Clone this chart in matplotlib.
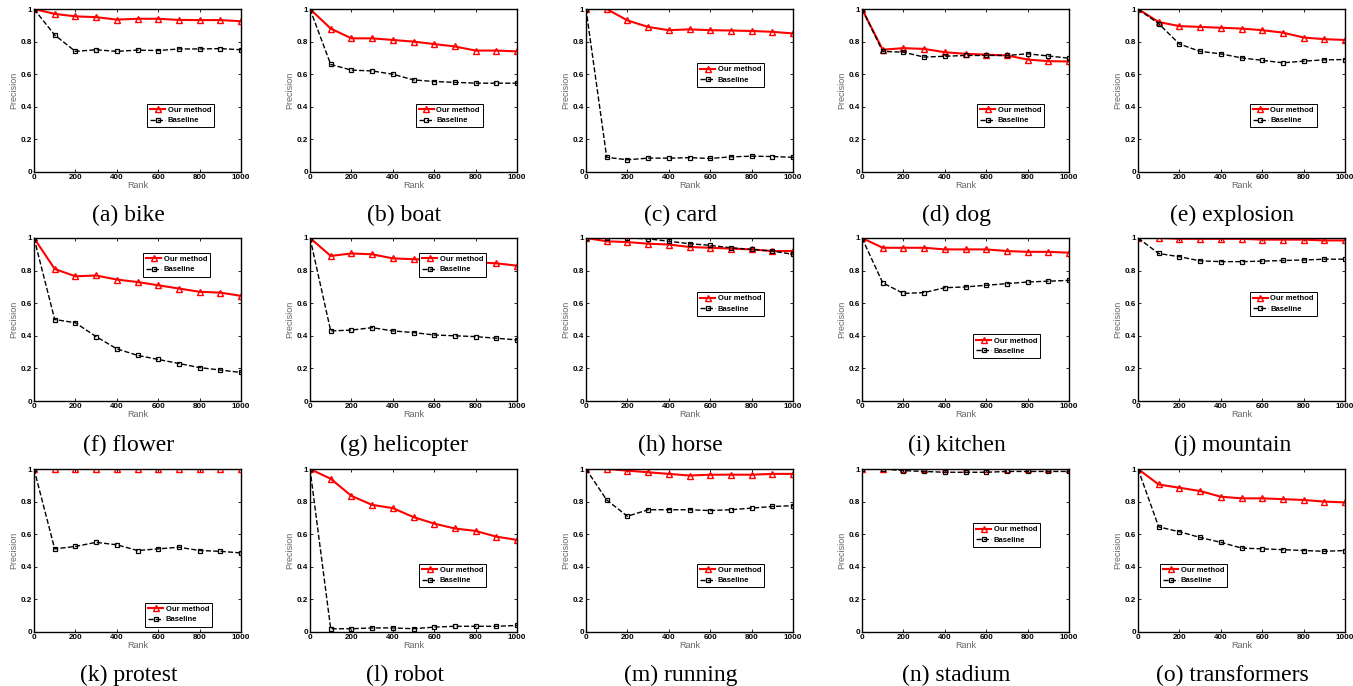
import matplotlib
matplotlib.use('Agg')
import matplotlib.pyplot as plt
import numpy as np

plt.rcParams.update({
    'font.family': 'Liberation Sans',
    'font.size': 6,
    'axes.linewidth': 1.0,
})

W, H = 1353, 686

ranks = [0, 100, 200, 300, 400, 500, 600, 700, 800, 900, 1000]

captions = ['(a) bike', '(b) boat', '(c) card', '(d) dog', '(e) explosion',
            '(f) flower', '(g) helicopter', '(h) horse', '(i) kitchen', '(j) mountain',
            '(k) protest', '(l) robot', '(m) running', '(n) stadium', '(o) transformers']

ours = [
    [1.0, 0.97, 0.955, 0.95, 0.935, 0.94, 0.94, 0.933, 0.932, 0.932, 0.925],    # bike
    [1.0, 0.88, 0.82, 0.82, 0.81, 0.80, 0.785, 0.77, 0.745, 0.745, 0.74],       # boat
    [1.0, 1.0, 0.93, 0.89, 0.87, 0.875, 0.87, 0.868, 0.865, 0.86, 0.85],        # card
    [1.0, 0.75, 0.76, 0.755, 0.735, 0.725, 0.72, 0.715, 0.69, 0.68, 0.678],     # dog
    [1.0, 0.92, 0.895, 0.89, 0.885, 0.88, 0.87, 0.855, 0.825, 0.815, 0.81],     # explosion
    [1.0, 0.81, 0.765, 0.77, 0.745, 0.73, 0.71, 0.69, 0.67, 0.665, 0.645],      # flower
    [1.0, 0.89, 0.905, 0.90, 0.875, 0.87, 0.865, 0.85, 0.85, 0.845, 0.83],      # helicopter
    [1.0, 0.98, 0.975, 0.965, 0.96, 0.945, 0.94, 0.935, 0.93, 0.92, 0.92],      # horse
    [1.0, 0.94, 0.94, 0.94, 0.93, 0.93, 0.93, 0.92, 0.915, 0.915, 0.91],        # kitchen
    [1.0, 1.0, 0.995, 0.995, 0.995, 0.995, 0.99, 0.99, 0.99, 0.985, 0.985],     # mountain
    [1.0, 1.0, 1.0, 1.0, 1.0, 1.0, 1.0, 1.0, 1.0, 1.0, 1.0],                    # protest
    [1.0, 0.94, 0.835, 0.78, 0.76, 0.705, 0.665, 0.635, 0.62, 0.585, 0.565],    # robot
    [1.0, 1.0, 0.99, 0.98, 0.97, 0.96, 0.965, 0.965, 0.965, 0.97, 0.97],        # running
    [1.0, 1.0, 1.0, 1.0, 1.0, 1.0, 1.0, 1.0, 1.0, 1.0, 1.0],                    # stadium
    [1.0, 0.905, 0.885, 0.865, 0.83, 0.82, 0.82, 0.815, 0.81, 0.80, 0.795],     # transformers
]

baseline = [
    [1.0, 0.84, 0.74, 0.75, 0.74, 0.748, 0.745, 0.755, 0.755, 0.757, 0.75],
    [1.0, 0.66, 0.625, 0.62, 0.60, 0.565, 0.555, 0.55, 0.545, 0.545, 0.545],
    [1.0, 0.09, 0.075, 0.085, 0.085, 0.088, 0.083, 0.093, 0.097, 0.095, 0.09],
    [1.0, 0.74, 0.735, 0.705, 0.71, 0.715, 0.715, 0.715, 0.725, 0.712, 0.698],
    [1.0, 0.91, 0.785, 0.74, 0.725, 0.70, 0.685, 0.67, 0.68, 0.688, 0.69],
    [1.0, 0.50, 0.48, 0.395, 0.32, 0.28, 0.255, 0.23, 0.205, 0.19, 0.175],
    [1.0, 0.43, 0.435, 0.45, 0.43, 0.42, 0.405, 0.40, 0.395, 0.385, 0.375],
    [1.0, 1.0, 1.0, 0.995, 0.98, 0.965, 0.955, 0.94, 0.93, 0.92, 0.90],
    [1.0, 0.725, 0.66, 0.665, 0.695, 0.70, 0.71, 0.72, 0.73, 0.735, 0.74],
    [1.0, 0.905, 0.885, 0.86, 0.855, 0.855, 0.858, 0.862, 0.865, 0.87, 0.87],
    [1.0, 0.51, 0.525, 0.55, 0.535, 0.50, 0.51, 0.52, 0.50, 0.495, 0.485],
    [1.0, 0.02, 0.02, 0.025, 0.025, 0.02, 0.03, 0.035, 0.035, 0.035, 0.04],
    [1.0, 0.81, 0.71, 0.75, 0.75, 0.75, 0.745, 0.75, 0.76, 0.77, 0.775],
    [1.0, 1.0, 0.99, 0.985, 0.98, 0.98, 0.98, 0.985, 0.985, 0.985, 0.985],
    [1.0, 0.645, 0.615, 0.58, 0.55, 0.515, 0.51, 0.505, 0.50, 0.495, 0.50],
]

# legend upper-left corner in axes fraction
legend_pos = [
    (0.546, 0.42), (0.51, 0.42), (0.536, 0.67), (0.556, 0.42), (0.54, 0.42),
    (0.527, 0.91), (0.527, 0.91), (0.536, 0.67), (0.536, 0.41), (0.54, 0.67),
    (0.536, 0.18), (0.527, 0.42), (0.536, 0.42), (0.536, 0.67), (0.106, 0.42),
]

col_left = [34, 310, 586, 862, 1138]
row_top = [9, 238, 469]
ax_w, ax_h = 207, 163
cap_y = [215, 445, 675]

fig = plt.figure(figsize=(W / 100, H / 100), dpi=100)

for k in range(15):
    r, c = divmod(k, 5)
    x0 = col_left[c]
    y0 = row_top[r]
    ax = fig.add_axes([x0 / W, 1 - (y0 + ax_h) / H, ax_w / W, ax_h / H])
    ax.plot(ranks, ours[k], '-^', color='red', linewidth=1.5, markersize=5,
            markerfacecolor='none', markeredgewidth=1.0, label='Our method')
    ax.plot(ranks, baseline[k], '--s', color='black', linewidth=1.0, markersize=3.5,
            markerfacecolor='none', markeredgewidth=0.9, label='Baseline')
    ax.set_xlim(0, 1000)
    ax.set_ylim(0, 1)
    ax.set_xticks([0, 200, 400, 600, 800, 1000])
    ax.set_yticks([0, 0.2, 0.4, 0.6, 0.8, 1])
    ax.set_yticklabels(['0', '0.2', '0.4', '0.6', '0.8', '1'])
    ax.tick_params(direction='in', length=2.5, width=0.6, top=True, right=True,
                   labelsize=5.8, pad=1.5)
    for lab in ax.get_xticklabels() + ax.get_yticklabels():
        lab.set_fontweight('bold')
    ax.set_xlabel('Rank', color='#666666', fontsize=6.5, labelpad=0)
    ax.set_ylabel('Precision', color='#666666', fontsize=6.5, labelpad=2)
    lx, ly = legend_pos[k]
    leg = ax.legend(loc='upper left', bbox_to_anchor=(lx, ly),
                    prop={'weight': 'bold', 'size': 5.5}, numpoints=1,
                    handlelength=2.0, handletextpad=0.3, borderpad=0.4,
                    labelspacing=0.4, fancybox=False, framealpha=1,
                    edgecolor='black', borderaxespad=0)
    leg.get_frame().set_linewidth(0.7)
    fig.text((x0 + ax_w / 2 - 9) / W, 1 - cap_y[r] / H, captions[k],
             ha='center', va='center', fontsize=17, family='Liberation Serif')

fig.savefig('out.png', dpi=100)
